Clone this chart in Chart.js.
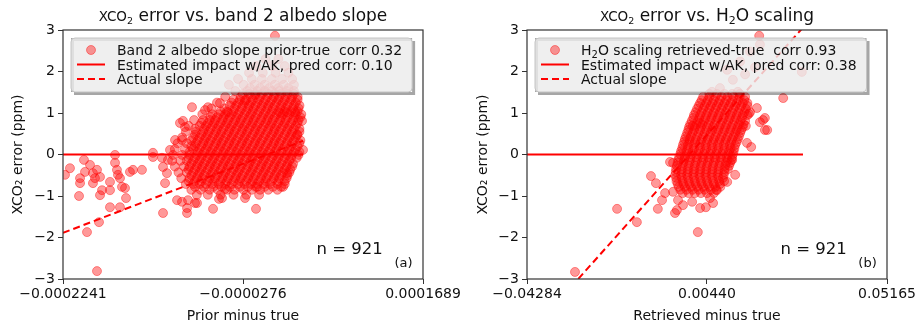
<!DOCTYPE html>
<html>
<head>
<meta charset="utf-8">
<script src="https://cdn.jsdelivr.net/npm/chart.js@4.4.0/dist/chart.umd.min.js"></script>
<style>
    html, body { margin: 0; padding: 0; background: #fff; }
    #wrap { position: relative; width: 917px; height: 329px; overflow: hidden; }
    #chartA { position: absolute; left: 0; top: 0; }
    #chartB { position: absolute; left: 460px; top: 0; }
</style>
</head>
<body>
<div id="wrap">
    <canvas id="chartA" width="460" height="329"></canvas>
    <canvas id="chartB" width="457" height="329"></canvas>
</div>
<script>
// ---------- panel (a): x = prior minus true, in units of 1e-6 ----------
const xTicksA = [-224.1, -27.6, 168.9];
const xTickLabelsA = ['\u22120.0002241', '\u22120.0000276', '0.0001689'];
const estLineXA = [-224.1, 37.9];
const estLineYA = [0, 0];
const slopeLineXA = [-224.1, 37.9];
const slopeLineYA = [-1.89, 0.33];

// scattered points [x, y]
const sparseA = [
    [-221.9, -0.49], [-216.5, -0.33], [-201.2, -0.13], [-194.6, -0.25], [-205.5, -0.57], [-205.5, -0.69],
    [-200.1, -0.42], [-191.4, -0.45], [-189.2, -0.57], [-191.4, -0.69], [-187.0, -0.37], [-183.7, -0.54],
    [-181.5, -0.86], [-183.7, -0.98], [-206.6, -1.00], [-172.8, -0.66], [-172.8, -0.86], [-167.3, -0.01],
    [-167.3, -0.20], [-165.2, -0.37], [-164.1, -0.49], [-161.9, -0.57], [-159.7, -0.78], [-156.4, -0.81],
    [-155.3, -1.05], [-151.0, -0.42], [-147.7, -0.37], [-137.9, -0.37], [-172.8, -1.27], [-161.9, -1.27],
    [-184.8, -1.63], [-197.9, -1.87], [-187.0, -2.81], [-114.9, -1.41], [-125.9, 0.04], [-125.9, -0.06],
    [-116.0, -0.08], [-109.5, -0.13], [-114.9, -0.30], [-110.6, -0.45], [-107.3, 0.11], [-101.8, 0.35],
    [-94.2, 0.35], [-96.4, 0.76], [-93.1, 0.81], [-112.7, -0.69], [-99.6, -1.10], [-94.2, -1.14],
    [-87.6, -1.10], [-88.7, -1.29], [-80.0, -1.17], [-88.7, -1.41], [-77.8, -1.17], [-60.3, -1.31],
    [-53.8, -1.07], [-50.5, -1.05], [-47.2, -0.83], [-25.4, -1.05], [-13.4, -1.31], [-12.3, -0.78],
    [16.1, -0.78], [20.4, -0.45], [36.8, 0.81], [37.9, 0.11], [31.3, 0.47], [12.8, 1.00], [20.4, 1.02],
    [-83.3, 1.14], [-90.9, 0.66], [-69.1, 1.07], [-65.8, 1.14], [-52.7, 1.24], [-44.0, 1.02],
    [-25.4, 1.31], [-14.5, 1.43], [29.2, 1.02], [7.3, 2.86]
];

// dense cloud, one row per error level: [y, [x, x, ...]]
const cloudRowsA = [
    [2.30, [-3, 11]],
    [2.13, [-13, 4, 18]],
    [1.97, [-21, -6, 8, 22]],
    [1.82, [-33, -18, -7, 4, 15, 26]],
    [1.68, [-43, -27, -15, -4, 7, 17, 28]],
    [1.60, [-20, -9, 1, 11, 22]],
    [1.53, [-36, -23, -12, -4, 4, 12, 20, 28]],
    [1.46, [-28, -21, -14, -7, 0, 7, 14, 21, 28]],
    [1.39, [-47, -30, -19, -9, -1, 6, 12, 19, 26, 32]],
    [1.32, [-38, -31, -24, -17, -10, -3, 4, 11, 18, 25, 32]],
    [1.25, [-56, -40, -33, -26, -19, -12, -5, 2, 9, 16, 23, 30]],
    [1.18, [-42, -35, -28, -21, -14, -7, 0, 7, 14, 21, 28, 34]],
    [1.11, [-62, -48, -37, -29, -22, -16, -8, -1, 5, 13, 19, 27, 33]],
    [1.04, [-52, -45, -38, -31, -24, -17, -10, -3, 4, 11, 18, 25, 32]],
    [0.97, [-72, -61, -54, -47, -40, -33, -26, -19, -12, -5, 2, 9, 16, 23, 30, 36]],
    [0.90, [-63, -56, -49, -42, -35, -28, -21, -14, -7, 0, 7, 14, 21, 28, 35]],
    [0.83, [-81, -71, -64, -58, -50, -44, -36, -30, -22, -16, -8, -1, 5, 13, 19, 27, 33]],
    [0.76, [-73, -66, -59, -52, -45, -38, -31, -24, -17, -10, -3, 4, 11, 18, 25, 32]],
    [0.69, [-87, -75, -68, -61, -54, -47, -40, -33, -26, -19, -12, -5, 2, 9, 16, 23, 30]],
    [0.62, [-80, -70, -63, -56, -49, -42, -35, -28, -21, -14, -7, 0, 7, 14, 21, 28, 34]],
    [0.55, [-90, -79, -71, -65, -57, -51, -43, -37, -29, -23, -15, -9, -1, 6, 12, 20, 26, 34]],
    [0.48, [-80, -73, -66, -59, -52, -45, -38, -31, -24, -17, -10, -3, 4, 11, 18, 25, 32]],
    [0.41, [-94, -82, -75, -68, -61, -54, -47, -40, -33, -26, -19, -12, -5, 2, 9, 16, 23, 30]],
    [0.34, [-84, -77, -70, -63, -56, -49, -42, -35, -28, -21, -14, -7, 0, 7, 14, 21, 28, 35]],
    [0.27, [-99, -89, -79, -71, -65, -57, -51, -43, -37, -29, -23, -15, -9, -1, 6, 12, 20, 26, 34]],
    [0.20, [-84, -80, -73, -66, -59, -52, -45, -38, -31, -24, -17, -10, -3, 4, 11, 18, 25, 32]],
    [0.13, [-102, -91, -82, -75, -68, -61, -54, -47, -40, -33, -26, -19, -12, -5, 2, 9, 16, 23, 30]],
    [0.06, [-86, -77, -70, -63, -56, -49, -42, -35, -28, -21, -14, -7, 0, 7, 14, 21, 28, 34]],
    [-0.01, [-104, -94, -86, -78, -72, -64, -58, -50, -44, -36, -30, -22, -16, -8, -2, 6, 12, 20, 26, 33]],
    [-0.08, [-87, -80, -73, -66, -59, -52, -45, -38, -31, -24, -17, -10, -3, 4, 11, 18, 25, 31]],
    [-0.15, [-105, -96, -89, -82, -75, -68, -61, -54, -47, -40, -33, -26, -19, -12, -5, 2, 9, 16, 23]],
    [-0.22, [-84, -77, -70, -63, -56, -49, -42, -35, -28, -21, -14, -7, 0, 7, 14, 21, 27]],
    [-0.29, [-102, -92, -86, -78, -72, -64, -58, -50, -44, -36, -30, -22, -16, -8, -2, 6, 12, 20, 26]],
    [-0.36, [-87, -80, -73, -66, -59, -52, -45, -38, -31, -24, -17, -10, -3, 4, 11, 18, 24]],
    [-0.43, [-98, -89, -82, -75, -68, -61, -54, -47, -40, -33, -26, -19, -12, -5, 2, 9, 16, 23]],
    [-0.50, [-84, -77, -70, -63, -56, -49, -42, -35, -28, -21, -14, -7, 0, 7, 14, 21]],
    [-0.57, [-95, -86, -78, -72, -64, -58, -50, -44, -36, -30, -22, -16, -8, -2, 6, 12, 20]],
    [-0.64, [-87, -80, -73, -66, -59, -52, -45, -38, -31, -24, -17, -10, -3, 4, 11, 18]],
    [-0.71, [-90, -82, -75, -68, -61, -54, -47, -40, -33, -26, -19, -12, -5, 2, 10, 18]],
    [-0.78, [-80, -70, -60, -51, -42, -31, -22, -14, -4, 5, 14]],
    [-0.85, [-84, -74, -64, -55, -45, -37, -27, -18, -9, 0, 10]],
    [-0.97, [-78, -66, -52, -38, -24, -10]]
];

// ---------- panel (b): x = retrieved minus true, in units of 1e-3 ----------
const xTicksB = [-42.84, 4.40, 51.65];
const xTickLabelsB = ['\u22120.04284', '0.00440', '0.05165'];
const estLineXB = [-42.84, 29.6];
const estLineYB = [0, 0];
const slopeLineXB = [-42.84, 29.6];
const slopeLineYB = [-4.38, 3.06];

const sparseB = [
    [-30.24, -2.83], [-19.2, -1.31], [-14.0, -1.63], [-10.3, -0.52], [-9.0, -0.69], [-7.4, -1.10],
    [-8.5, -1.31], [-5.3, -0.18], [-4.5, -0.20], [-4.5, -0.90], [-4.0, -1.41], [-3.5, -1.34],
    [-6.6, -0.93], [-3.2, -1.10], [-1.9, -1.22], [0.5, -1.14], [2.6, -1.29], [4.1, -1.27],
    [6.0, -1.17], [5.2, -1.05], [7.0, -0.86], [9.7, -0.66], [11.8, -0.49], [11.0, -0.13],
    [2.0, -1.87], [0.7, 0.69], [2.6, 0.76], [14.6, 0.69], [15.4, 0.98], [19.1, 0.83],
    [19.6, 0.59], [14.9, 0.28], [16.0, 0.18], [18.3, 0.78], [20.2, 0.59], [24.4, 1.36],
    [15.7, 1.02], [17.5, 1.12], [19.6, 0.88], [29.3, 1.99], [7.8, 1.60], [11.2, 1.80],
    [14.4, 1.93], [17.0, 2.10], [9.7, 2.04], [13.1, 2.24], [15.7, 2.48], [5.7, 1.51],
    [12.5, 1.51], [18.3, 2.65], [18.1, 2.86]
];

const cloudRowsB = [
    [1.46, [5.0, 7.0, 9.0, 11.0, 13.0]],
    [1.39, [3.4, 5.0, 6.6, 8.2, 9.8, 11.4, 13.0, 14.4]],
    [1.31, [3.0, 4.6, 6.2, 7.8, 9.4, 11.0, 12.6, 14.2]],
    [1.24, [2.6, 4.2, 5.8, 7.4, 9.0, 10.6, 12.2, 13.8, 15.0]],
    [1.17, [2.2, 3.8, 5.4, 7.0, 8.6, 10.2, 11.8, 13.4, 15.0]],
    [1.10, [1.8, 3.4, 5.0, 6.6, 8.2, 9.8, 11.4, 13.0, 14.6]],
    [1.02, [1.4, 3.0, 4.6, 6.2, 7.8, 9.4, 11.0, 12.6, 14.2]],
    [0.95, [1.0, 2.6, 4.2, 5.8, 7.4, 9.0, 10.6, 12.2, 13.8, 15.0]],
    [0.88, [0.8, 2.4, 4.0, 5.6, 7.2, 8.8, 10.4, 12.0, 13.6]],
    [0.81, [0.4, 2.0, 3.6, 5.2, 6.8, 8.4, 10.0, 11.6, 13.2, 14.4]],
    [0.73, [0.0, 1.6, 3.2, 4.8, 6.4, 8.0, 9.6, 11.2, 12.8, 14.0]],
    [0.66, [-0.3, 1.2, 2.8, 4.4, 6.0, 7.6, 9.2, 10.8, 12.4, 13.8]],
    [0.59, [-0.5, 1.0, 2.6, 4.2, 5.8, 7.4, 9.0, 10.6, 12.2, 13.4]],
    [0.52, [-0.8, 0.6, 2.2, 3.8, 5.4, 7.0, 8.6, 10.2, 11.8, 13.1]],
    [0.44, [-1.1, 0.2, 1.8, 3.4, 5.0, 6.6, 8.2, 9.8, 11.4, 12.8]],
    [0.37, [-1.4, -0.2, 1.4, 3.0, 4.6, 6.2, 7.8, 9.4, 11.0, 12.5]],
    [0.30, [-1.6, -0.2, 1.2, 2.8, 4.4, 6.0, 7.6, 9.2, 10.8, 12.2]],
    [0.23, [-1.9, -0.6, 0.8, 2.4, 4.0, 5.6, 7.2, 8.8, 10.4, 11.8]],
    [0.15, [-2.1, -0.6, 1.0, 2.6, 4.2, 5.8, 7.4, 9.0, 10.6, 11.6]],
    [0.08, [-2.4, -1.0, 0.6, 2.2, 3.8, 5.4, 7.0, 8.6, 10.2, 11.4]],
    [0.01, [-2.6, -1.0, 0.4, 2.0, 3.6, 5.2, 6.8, 8.4, 10.0, 11.2]],
    [-0.06, [-2.9, -1.4, 0.0, 1.6, 3.2, 4.8, 6.4, 8.0, 9.6, 11.0]],
    [-0.13, [-3.1, -1.6, 0.0, 1.8, 3.4, 5.0, 6.6, 8.2, 9.8, 10.8]],
    [-0.20, [-3.3, -1.8, -0.2, 1.4, 3.0, 4.6, 6.2, 7.8, 9.4, 10.5]],
    [-0.27, [-3.5, -2.0, -0.4, 1.2, 2.8, 4.4, 6.0, 7.6, 9.2, 10.2]],
    [-0.35, [-3.7, -2.2, -0.6, 1.0, 2.6, 4.2, 5.8, 7.4, 9.0, 9.9]],
    [-0.42, [-3.8, -2.2, -0.6, 1.0, 2.6, 4.2, 5.8, 7.4, 9.0]],
    [-0.49, [-3.9, -2.4, -0.8, 0.8, 2.4, 4.0, 5.6, 7.2, 8.8]],
    [-0.56, [-3.7, -2.2, -0.6, 1.0, 2.6, 4.2, 5.8, 7.4, 8.6]],
    [-0.64, [-3.6, -2.0, -0.4, 1.2, 2.8, 4.4, 6.0, 7.6, 8.9]],
    [-0.71, [-3.3, -1.8, -0.2, 1.4, 3.0, 4.6, 6.2, 7.8]],
    [-0.78, [-3.0, -1.4, 0.2, 1.8, 3.4, 5.0, 6.6, 7.9]],
    [-0.85, [-2.6, -1.0, 0.6, 2.2, 3.8, 5.4, 6.8]],
    [-0.93, [-2.0, -0.4, 1.2, 2.8, 4.4, 6.2]]
];

const sampleCount = 921;

// ---------- drawing ----------
const FONT = '"DejaVu Sans", sans-serif';
const RED_ALPHA = 'rgba(255, 0, 0, 0.4)';

const toPoints = (xs, ys) => xs.map((x, i) => ({ x: x, y: ys[i] }));
const cloudPoints = (sparse, rows) => sparse.map(p => ({ x: p[0], y: p[1] }))
    .concat(rows.flatMap(r => r[1].map(x => ({ x: x, y: r[0] }))));
const minus = v => (v < 0 ? '\u2212' + Math.abs(v) : String(v));

// parts: [text, fontSize, yShift]
function richWidth(ctx, parts) {
    let w = 0;
    parts.forEach(p => { ctx.font = p[1] + 'px ' + FONT; w += ctx.measureText(p[0]).width; });
    return w;
}
function drawRich(ctx, parts, x, y) {
    let cx = x;
    parts.forEach(p => {
        ctx.font = p[1] + 'px ' + FONT;
        ctx.fillText(p[0], cx, y + (p[2] || 0));
        cx += ctx.measureText(p[0]).width;
    });
}

function decorations(cfg) {
    return {
        id: 'decorations',
        afterDraw(chart) {
            const ctx = chart.ctx;
            const a = chart.chartArea;
            ctx.save();
            // axes frame
            ctx.strokeStyle = '#333';
            ctx.lineWidth = 1.2;
            ctx.strokeRect(a.left, a.top, a.right - a.left, a.bottom - a.top);

            // legend box
            ctx.textAlign = 'left';
            ctx.textBaseline = 'alphabetic';
            const bx = a.left + 8, by = 38, bh = 54;
            const textX = bx + 46;
            const tw = Math.max(...cfg.legend.map(parts => richWidth(ctx, parts)));
            const bw = textX + tw + 10 - bx;
            ctx.fillStyle = 'rgba(0, 0, 0, 0.35)';
            ctx.beginPath();
            ctx.rect(bx + 3, by + 3, bw, bh);
            ctx.rect(bx + bw, by, -bw, bh);
            ctx.fill('evenodd');
            ctx.beginPath();
            ctx.roundRect(bx, by, bw, bh, 4);
            ctx.fillStyle = 'rgba(236, 236, 236, 0.82)';
            ctx.fill();
            ctx.strokeStyle = '#c4c4c4';
            ctx.lineWidth = 1;
            ctx.stroke();

            const rows = [by + 12, by + 26.5, by + 41];
            // marker
            ctx.beginPath();
            ctx.arc(bx + 20, rows[0], 4.5, 0, Math.PI * 2);
            ctx.fillStyle = RED_ALPHA;
            ctx.fill();
            ctx.strokeStyle = RED_ALPHA;
            ctx.stroke();
            // solid and dashed handles
            ctx.strokeStyle = '#ff0000';
            ctx.lineWidth = 2;
            ctx.beginPath();
            ctx.moveTo(bx + 6, rows[1]); ctx.lineTo(bx + 34, rows[1]);
            ctx.stroke();
            ctx.setLineDash([7, 4]);
            ctx.beginPath();
            ctx.moveTo(bx + 6, rows[2]); ctx.lineTo(bx + 34, rows[2]);
            ctx.stroke();
            ctx.setLineDash([]);
            ctx.fillStyle = '#111';
            cfg.legend.forEach((parts, i) => drawRich(ctx, parts, textX, rows[i] + 5));

            // annotations
            const w = a.right - a.left, h = a.bottom - a.top;
            ctx.textAlign = 'center';
            ctx.font = '16.5px ' + FONT;
            ctx.fillText('n = ' + sampleCount, a.left + w * 0.796, a.top + h * 0.875 + 6);
            ctx.font = '13px ' + FONT;
            ctx.fillText(cfg.tag, a.left + w * 0.946, a.top + h * 0.936 + 4);

            // title
            ctx.textAlign = 'left';
            const titleW = richWidth(ctx, cfg.title);
            drawRich(ctx, cfg.title, (a.left + a.right) / 2 - titleW / 2, 21);
            ctx.restore();
        }
    };
}

function buildChart(id, cfg) {
    const tickFont = { family: FONT, size: 14 };
    return new Chart(document.getElementById(id), {
        type: 'scatter',
        data: {
            datasets: [
                {
                    data: cfg.points,
                    backgroundColor: RED_ALPHA,
                    borderColor: RED_ALPHA,
                    pointRadius: 4.5,
                    pointBorderWidth: 1,
                    order: 0
                },
                {
                    data: cfg.estLine,
                    showLine: true,
                    borderColor: '#ff0000',
                    borderWidth: 2,
                    pointRadius: 0,
                    order: 1
                },
                {
                    data: cfg.slopeLine,
                    showLine: true,
                    borderColor: '#ff0000',
                    borderWidth: 2,
                    borderDash: [7, 4],
                    pointRadius: 0,
                    order: 2
                }
            ]
        },
        options: {
            responsive: false,
            animation: false,
            events: [],
            layout: { padding: { left: 0, top: 30, right: cfg.padRight, bottom: 0 } },
            plugins: { legend: { display: false }, tooltip: { enabled: false } },
            scales: {
                x: {
                    type: 'linear',
                    min: cfg.xTicks[0],
                    max: cfg.xTicks[2],
                    afterBuildTicks: s => { s.ticks = cfg.xTicks.map(v => ({ value: v })); },
                    afterFit: s => { s.height = 50; s.paddingLeft = 0; s.paddingRight = 0; },
                    ticks: {
                        callback: (v, i) => cfg.xTickLabels[i],
                        font: tickFont, color: '#111', maxRotation: 0, autoSkip: false, padding: 2
                    },
                    grid: { drawOnChartArea: false, drawTicks: true, tickLength: 5, tickColor: '#333' },
                    border: { display: false },
                    title: {
                        display: true, text: cfg.xTitle, font: tickFont, color: '#111',
                        padding: { top: 0, bottom: 4 }
                    }
                },
                y: {
                    min: -3,
                    max: 3,
                    afterFit: s => { s.width = cfg.yAxisWidth; s.paddingTop = 0; s.paddingBottom = 0; },
                    ticks: { stepSize: 1, callback: v => minus(v), font: tickFont, color: '#111', padding: 3 },
                    grid: { drawOnChartArea: false, drawTicks: true, tickLength: 5, tickColor: '#333' },
                    border: { display: false },
                    title: {
                        display: true, text: 'XCO\u2082 error (ppm)', font: tickFont, color: '#111',
                        padding: { top: cfg.yTitlePad, bottom: 0 }
                    }
                }
            }
        },
        plugins: [decorations(cfg)]
    });
}

buildChart('chartA', {
    points: cloudPoints(sparseA, cloudRowsA),
    estLine: toPoints(estLineXA, estLineYA),
    slopeLine: toPoints(slopeLineXA, slopeLineYA),
    xTicks: xTicksA,
    xTickLabels: xTickLabelsA,
    xTitle: 'Prior minus true',
    yAxisWidth: 63,
    yTitlePad: 10,
    padRight: 37,
    tag: '(a)',
    title: [['XCO', 13.5], ['2', 9.5, 3], [' error vs. band 2 albedo slope', 17]],
    legend: [
        [['Band 2 albedo slope prior-true  corr 0.32', 14]],
        [['Estimated impact w/AK, pred corr: 0.10', 14]],
        [['Actual slope', 14]]
    ]
});

buildChart('chartB', {
    points: cloudPoints(sparseB, cloudRowsB),
    estLine: toPoints(estLineXB, estLineYB),
    slopeLine: toPoints(slopeLineXB, slopeLineYB),
    xTicks: xTicksB,
    xTickLabels: xTickLabelsB,
    xTitle: 'Retrieved minus true',
    yAxisWidth: 67,
    yTitlePad: 15,
    padRight: 30,
    tag: '(b)',
    title: [['XCO', 13.5], ['2', 9.5, 3], [' error vs. H', 17], ['2', 11, 3], ['O scaling', 17]],
    legend: [
        [['H', 14], ['2', 10, 3], ['O scaling retrieved-true  corr 0.93', 14]],
        [['Estimated impact w/AK, pred corr: 0.38', 14]],
        [['Actual slope', 14]]
    ]
});
</script>
</body>
</html>
